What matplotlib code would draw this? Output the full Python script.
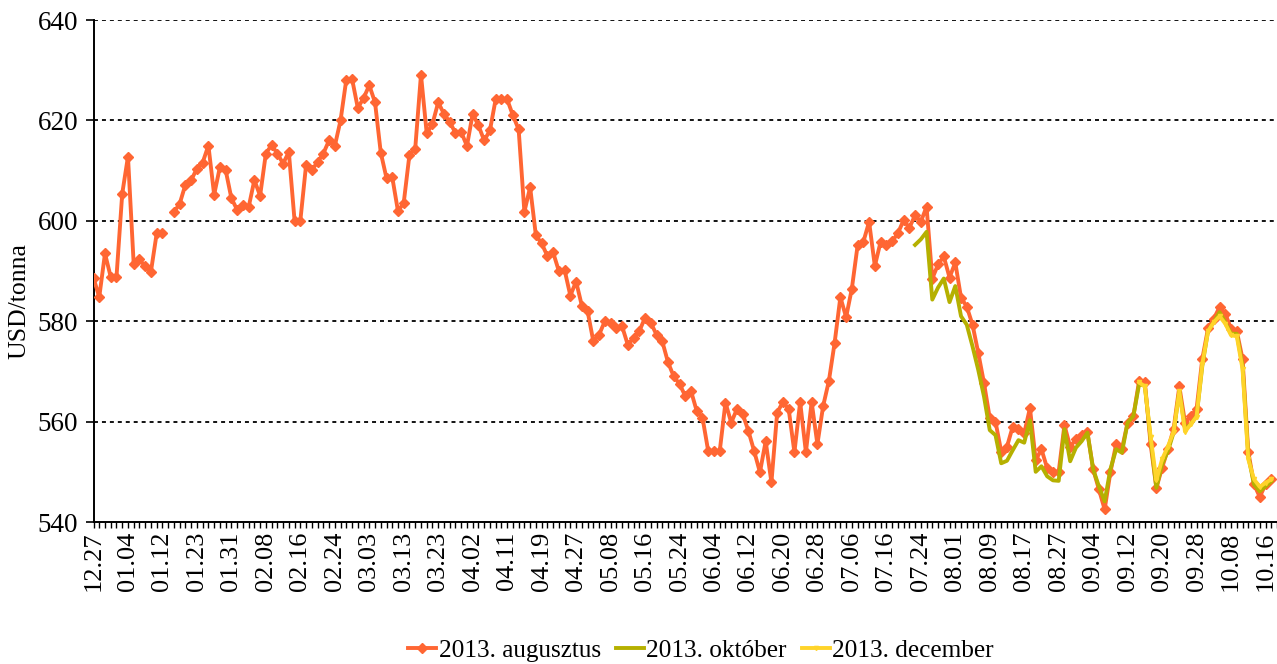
import numpy as np
import matplotlib
matplotlib.use('Agg')
import matplotlib.pyplot as plt

plt.rcParams['font.family'] = ['Liberation Serif', 'DejaVu Serif']

# tick labels, one for every 6th trading day
tick_labels = ['12.27', '01.04', '01.12', '01.23', '01.31', '02.08', '02.16', '02.24',
               '03.03', '03.13', '03.23', '04.02', '04.11', '04.19', '04.27', '05.08',
               '05.16', '05.24', '06.04', '06.12', '06.20', '06.28', '07.06', '07.16',
               '07.24', '08.01', '08.09', '08.17', '08.27', '09.04', '09.12', '09.20',
               '09.28', '10.08', '10.16']

# 2013. augusztus (USD/tonna), nan = missing day
aug = [588.6, 584.8, 593.5, 588.8, 588.8, 605.4, 612.8, 591.3, 592.3, 590.9,
       589.9, 597.5, 597.5, np.nan, 601.7, 603.4, 607.2, 608.1, 610.4, 611.6,
       615.0, 605.2, 610.7, 610.1, 604.5, 602.2, 603.2, 602.7, 608.1, 605.0,
       613.4, 615.1, 613.4, 611.4, 613.7, 600.0, 600.0, 611.1, 610.1, 611.7,
       613.4, 616.0, 614.9, 620.0, 628.1, 628.3, 622.5, 624.4, 627.0, 623.6,
       613.6, 608.5, 608.7, 601.9, 603.6, 613.2, 614.4, 629.1, 617.4, 619.3,
       623.6, 621.3, 619.7, 617.5, 617.7, 614.9, 621.3, 619.0, 616.0, 618.0,
       624.2, 624.2, 624.2, 621.0, 618.2, 601.8, 606.7, 597.1, 595.5, 593.0,
       593.7, 590.0, 590.2, 585.1, 587.9, 583.1, 582.0, 576.0, 577.3, 580.0,
       579.7, 578.7, 579.0, 575.3, 576.7, 578.0, 580.7, 579.7, 577.3, 576.0,
       571.8, 569.0, 567.5, 565.1, 566.1, 562.1, 560.8, 554.1, 554.1, 554.1,
       563.8, 559.8, 562.5, 561.5, 558.1, 554.1, 549.9, 556.1, 547.9, 561.8,
       563.9, 562.5, 553.9, 563.9, 553.9, 563.9, 555.5, 563.1, 568.1, 575.7,
       584.8, 580.8, 586.5, 595.1, 595.8, 599.8, 591.0, 595.8, 595.1, 595.9,
       597.5, 600.1, 598.6, 601.1, 599.8, 602.8, 588.5, 591.3, 592.9, 588.7,
       591.7, 584.7, 582.9, 579.3, 573.7, 567.7, 560.7, 560.0, 554.0, 555.0,
       559.0, 558.5, 557.7, 562.7, 552.3, 554.5, 550.7, 550.0, 550.0, 559.3,
       555.0, 556.5, 557.3, 557.9, 550.5, 546.5, 542.5, 549.9, 555.5, 554.5,
       559.8, 561.1, 568.1, 567.8, 555.5, 546.8, 550.8, 554.5, 558.5, 567.0,
       559.8, 561.1, 562.5, 572.5, 578.6, 580.5, 582.8, 581.5, 578.5, 578.0,
       572.5, 554.0, 547.5, 545.0, 547.5, 548.5]

# 2013. október, starts at day 143
okt_start = 143
okt = [595.2, 596.3, 597.8, 584.3, 586.7, 588.5, 583.8, 587.0, 581.0, 579.3,
       575.0, 570.3, 565.0, 558.3, 557.3, 551.7, 552.2, 554.3, 556.3, 555.8,
       560.3, 550.0, 551.1, 549.1, 548.3, 548.2, 558.5, 552.1, 554.8, 556.1,
       557.8, 550.5, 547.1, 544.1, 550.5, 554.5, 553.8, 559.8, 561.1, 567.5,
       567.1, 556.5, 546.8, 551.5, 554.1, 557.8, 566.1, 558.5, 559.5, 561.1,
       571.1, 578.1, 579.8, 581.8, 579.8, 577.5, 577.5, 571.1, 553.1, 547.5,
       546.1, 547.1, 548.1]

# 2013. december, starts at day 182
dec_start = 182
dec = [567.8, 567.0, 557.0, 548.3, 552.5, 555.0, 558.0, 566.0, 558.0, 559.5,
       561.0, 571.5, 578.0, 579.8, 581.0, 579.5, 577.2, 577.0, 570.5, 552.5,
       548.5, 547.0, 547.8, 548.5]

fig = plt.figure(figsize=(12.77, 6.64), dpi=100)
ax = fig.add_axes([93.5 / 1277, 142 / 664, 1 - 93.5 / 1277, 502 / 664])

x_aug = np.arange(len(aug))
x_okt = np.arange(okt_start, okt_start + len(okt))
x_dec = np.arange(dec_start, dec_start + len(dec))

ax.plot(x_aug, aug, color='#FF6633', lw=2.8, marker='D', ms=5.5,
        label='2013. augusztus', zorder=3)
ax.plot(x_okt, okt, color='#B5B000', lw=2.8, label='2013. október', zorder=4)
ax.plot(x_dec, dec, color='#FFD42A', lw=2.8, marker='v', ms=3,
        label='2013. december', zorder=5)

ax.set_xlim(0, 206)
ax.set_ylim(540, 640)
ax.set_yticks(range(540, 641, 20))
ax.set_xticks(range(0, 6 * len(tick_labels), 6))
ax.set_xticklabels(tick_labels, rotation=90)
ax.set_xticks(range(0, 207), minor=True)

ax.tick_params(axis='y', labelsize=19.5, length=6, width=1.2, direction='out', pad=5)
ax.tick_params(axis='x', which='both', labelsize=19, length=4, width=1, direction='out', pad=3)

for v in range(560, 641, 20):
    ax.axhline(v, color='black', lw=1.3, ls=(0, (2.2, 2.2)), zorder=1)

for s in ['top', 'right']:
    ax.spines[s].set_visible(False)
ax.spines['left'].set_linewidth(1.4)
ax.spines['bottom'].set_linewidth(1.4)

ax.set_ylabel('USD/tonna', fontsize=18.5)
ax.yaxis.set_label_coords(-0.053, 0.44)

fig.legend(loc='center', bbox_to_anchor=(0.549, 0.0196), ncol=3, frameon=False,
           fontsize=18.2, handlelength=1.1, handletextpad=0.1, columnspacing=0.6)

fig.savefig('out.png', dpi=100)
